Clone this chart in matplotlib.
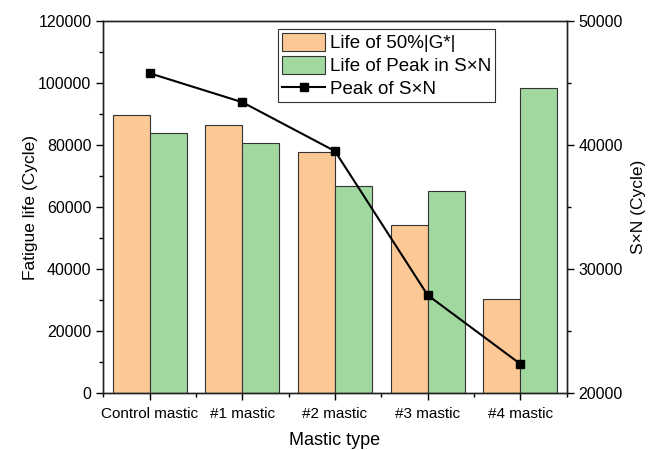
import numpy as np
import matplotlib
matplotlib.use("Agg")
import matplotlib.pyplot as plt
from matplotlib.ticker import MultipleLocator

plt.rcParams['font.family'] = ['Liberation Sans', 'DejaVu Sans']

# fatigue life data per mastic
mastics = ["Control mastic", "#1 mastic", "#2 mastic", "#3 mastic", "#4 mastic"]
life_50_g = [89500, 86500, 77600, 54100, 30300]
life_peak_sn = [83800, 80600, 66700, 65100, 98200]
peak_sn = [45770, 43440, 39500, 27910, 22370]

x = np.arange(len(mastics))
w = 0.4

fig = plt.figure(figsize=(6.48, 4.5), dpi=100)
ax = fig.add_axes([0.1594, 0.1258, 0.7151, 0.8282])

b1 = ax.bar(x - w / 2, life_50_g, w, color='#FCC896', edgecolor='#333333',
            linewidth=0.8, label='Life of 50%|G*|')
b2 = ax.bar(x + w / 2, life_peak_sn, w, color='#A0D8A0', edgecolor='#333333',
            linewidth=0.8, label='Life of Peak in S\u00d7N')

ax.set_xlim(-0.5, 4.5)
ax.set_ylim(0, 120000)
ax.set_xticks(x)
ax.set_xticklabels(mastics)
ax.xaxis.set_minor_locator(MultipleLocator(1, offset=0.5))
ax.yaxis.set_major_locator(MultipleLocator(20000))
ax.yaxis.set_minor_locator(MultipleLocator(10000))
ax.tick_params(axis='x', which='major', labelsize=11, length=5, width=1,
               direction='out', pad=5)
ax.tick_params(axis='y', which='major', labelsize=11.5, length=5, width=1, direction='out')
ax.tick_params(axis='both', which='minor', length=3, width=1, direction='out')
ax.set_xlabel('Mastic type', fontsize=13, labelpad=8)
ax.set_ylabel('Fatigue life (Cycle)', fontsize=12.5, labelpad=0)
for s in ax.spines.values():
    s.set_linewidth(1.0)
    s.set_color('#222222')

ax2 = ax.twinx()
line, = ax2.plot(x, peak_sn, color='black', linewidth=1.5, marker='s',
                 markersize=6, label='Peak of S\u00d7N')
ax2.set_ylim(20000, 50000)
ax2.yaxis.set_major_locator(MultipleLocator(10000))
ax2.yaxis.set_minor_locator(MultipleLocator(5000))
ax2.tick_params(axis='y', which='major', labelsize=11.5, length=5, width=1, direction='out')
ax2.tick_params(axis='y', which='minor', length=3, width=1, direction='out')
ax2.set_ylabel('S\u00d7N (Cycle)', fontsize=12.5, labelpad=6)
for s in ax2.spines.values():
    s.set_linewidth(1.0)
    s.set_color('#222222')

leg = ax.legend(handles=[b1, b2, line], loc='upper left',
                bbox_to_anchor=(0.3777, 0.977), fontsize=13.5, frameon=True,
                fancybox=False, edgecolor='#333333', framealpha=1,
                borderpad=0.2, labelspacing=0.2, handlelength=2.3,
                handleheight=1.07, handletextpad=0.25, borderaxespad=0)
leg.get_frame().set_linewidth(0.8)

fig.savefig('out.png', dpi=100)
